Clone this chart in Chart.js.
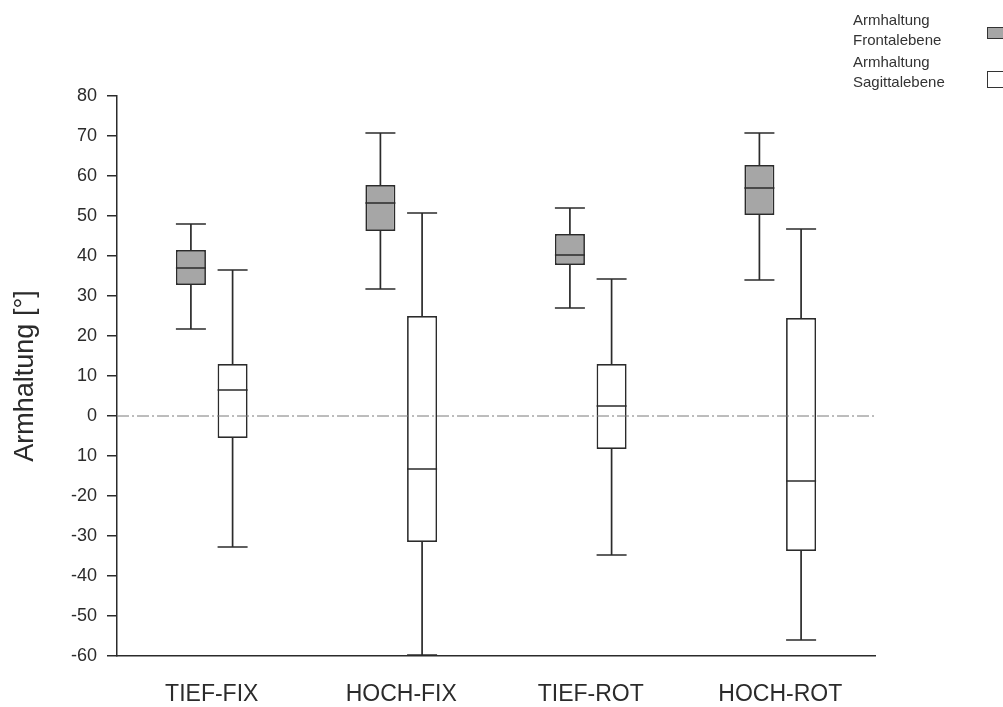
<!DOCTYPE html>
<html>
<head>
<meta charset="utf-8">
<script src="https://cdn.jsdelivr.net/npm/chart.js@4"></script>
<style>
body { margin: 0; background: #fff; }
#wrap { position: relative; width: 1003px; height: 707px; overflow: hidden; }
.legend-text { position: absolute; font: 15px 'Liberation Sans', Arial, sans-serif; color: #333; line-height: 20px; }
.legend-box { position: absolute; width: 20px; border: 1.5px solid #333; box-sizing: border-box; }
</style>
</head>
<body>
<div id="wrap">
    <canvas id="boxChart" width="1003" height="707"></canvas>
    <div class="legend-text" style="left:853px; top:10px;">Armhaltung<br>Frontalebene</div>
    <div class="legend-box" style="left:987px; top:27px; height:12px; background:#a6a6a6;"></div>
    <div class="legend-text" style="left:853px; top:52px;">Armhaltung<br>Sagittalebene</div>
    <div class="legend-box" style="left:987px; top:71px; height:17px; background:#fff;"></div>
</div>
<script>
var categories = ['TIEF-FIX', 'HOCH-FIX', 'TIEF-ROT', 'HOCH-ROT'];

// Armhaltung Frontalebene (grey boxes)
var frontMin = [21.75, 31.75, 27, 34];
var frontQ1 = [32.75, 46.25, 37.75, 50.25];
var frontMed = [37, 53.25, 40.25, 57];
var frontQ3 = [41.5, 57.75, 45.5, 62.75];
var frontMax = [48, 70.75, 52, 70.75];

// Armhaltung Sagittalebene (white boxes)
var sagMin = [-32.75, -59.75, -34.75, -56];
var sagQ1 = [-5.5, -31.5, -8.25, -33.75];
var sagMed = [6.5, -13.25, 2.5, -16.25];
var sagQ3 = [13, 25, 13, 24.5];
var sagMax = [36.5, 50.75, 34.25, 46.75];

var yTickValues = [80, 70, 60, 50, 40, 30, 20, 10, 0, -10, -20, -30, -40, -50, -60];
var yTickLabels = ['80', '70', '60', '50', '40', '30', '20', '10', '0', '10', '-20', '-30', '-40', '-50', '-60'];

var lineColor = '#2b2b2b';

var whiskerPlugin = {
    id: 'whiskers',
    afterDatasetsDraw: function(chart) {
        var ctx = chart.ctx;
        var yScale = chart.scales.y;
        var area = chart.chartArea;

        // dash-dot zero line
        ctx.save();
        var y0 = yScale.getPixelForValue(0);
        ctx.strokeStyle = '#7a7a7a';
        ctx.lineWidth = 1;
        ctx.setLineDash([12, 3, 2, 3]);
        ctx.beginPath();
        ctx.moveTo(area.left, y0);
        ctx.lineTo(area.right, y0);
        ctx.stroke();
        ctx.setLineDash([]);

        var stats = [
            { min: frontMin, q1: frontQ1, med: frontMed, q3: frontQ3, max: frontMax },
            { min: sagMin, q1: sagQ1, med: sagMed, q3: sagQ3, max: sagMax }
        ];

        ctx.strokeStyle = lineColor;
        ctx.lineWidth = 1.7;
        for (var d = 0; d < stats.length; d++) {
            var meta = chart.getDatasetMeta(d);
            var s = stats[d];
            for (var i = 0; i < meta.data.length; i++) {
                var bar = meta.data[i];
                var x = bar.x;
                var half = bar.width / 2;
                var pMin = yScale.getPixelForValue(s.min[i]);
                var pQ1 = yScale.getPixelForValue(s.q1[i]);
                var pMed = yScale.getPixelForValue(s.med[i]);
                var pQ3 = yScale.getPixelForValue(s.q3[i]);
                var pMax = yScale.getPixelForValue(s.max[i]);

                ctx.beginPath();
                // upper whisker + cap
                ctx.moveTo(x, pQ3);
                ctx.lineTo(x, pMax);
                ctx.moveTo(x - half, pMax);
                ctx.lineTo(x + half, pMax);
                // lower whisker + cap
                ctx.moveTo(x, pQ1);
                ctx.lineTo(x, pMin);
                ctx.moveTo(x - half, pMin);
                ctx.lineTo(x + half, pMin);
                // median
                ctx.moveTo(x - half, pMed);
                ctx.lineTo(x + half, pMed);
                ctx.stroke();
            }
        }
        ctx.restore();
    }
};

function buildRanges(lo, hi) {
    var out = [];
    for (var i = 0; i < lo.length; i++) {
        out.push([lo[i], hi[i]]);
    }
    return out;
}

Chart.defaults.font.family = "'Liberation Sans', Arial, sans-serif";
Chart.defaults.color = lineColor;

var ctx = document.getElementById('boxChart').getContext('2d');
var boxChart = new Chart(ctx, {
    type: 'bar',
    data: {
        labels: categories,
        datasets: [
            {
                label: 'Armhaltung Frontalebene',
                data: buildRanges(frontQ1, frontQ3),
                backgroundColor: '#a6a6a6',
                borderColor: lineColor,
                borderWidth: 1.7,
                borderSkipped: false,
                categoryPercentage: 0.44,
                barPercentage: 0.72
            },
            {
                label: 'Armhaltung Sagittalebene',
                data: buildRanges(sagQ1, sagQ3),
                backgroundColor: '#ffffff',
                borderColor: lineColor,
                borderWidth: 1.7,
                borderSkipped: false,
                categoryPercentage: 0.44,
                barPercentage: 0.72
            }
        ]
    },
    options: {
        responsive: false,
        animation: false,
        layout: { padding: { top: 96, right: 128, bottom: 0, left: 0 } },
        plugins: {
            legend: { display: false },
            tooltip: { enabled: false }
        },
        scales: {
            x: {
                grid: { display: false, drawTicks: false, tickLength: 0 },
                border: { display: true, color: lineColor, width: 1.5 },
                ticks: { font: { size: 23 }, padding: 25, color: lineColor },
                afterFit: function(scale) { scale.height = 51; }
            },
            y: {
                min: -60,
                max: 80,
                afterBuildTicks: function(scale) {
                    scale.ticks = yTickValues.map(function(v) { return { value: v }; });
                },
                ticks: {
                    font: { size: 18 },
                    padding: 10,
                    color: lineColor,
                    callback: function(value) {
                        var idx = yTickValues.indexOf(value);
                        return idx >= 0 ? yTickLabels[idx] : '';
                    }
                },
                grid: {
                    drawOnChartArea: false,
                    drawTicks: true,
                    tickLength: 10,
                    color: lineColor,
                    lineWidth: 1.5
                },
                border: { display: true, color: lineColor, width: 1.5 },
                title: {
                    display: true,
                    text: 'Armhaltung [°]',
                    font: { size: 27 },
                    color: lineColor,
                    padding: { top: 9, bottom: 0 }
                },
                afterFit: function(scale) { scale.width = 117; }
            }
        }
    },
    plugins: [whiskerPlugin]
});
</script>
</body>
</html>
